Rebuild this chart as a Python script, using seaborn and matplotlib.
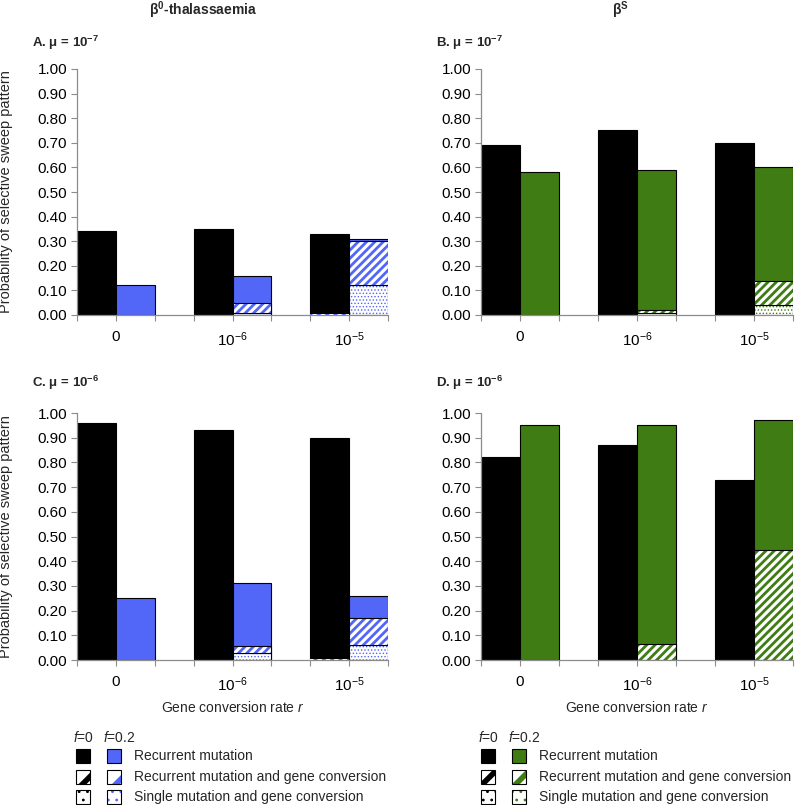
import numpy as np
import pandas as pd
import matplotlib.pyplot as plt
from matplotlib.patches import Rectangle
import seaborn as sns

sns.set_theme(style='ticks')
plt.rcParams['font.family'] = ['Liberation Sans', 'DejaVu Sans']
plt.rcParams['mathtext.fontset'] = 'custom'
plt.rcParams['mathtext.rm'] = 'Liberation Sans'
plt.rcParams['mathtext.it'] = 'Liberation Sans:italic'
plt.rcParams['mathtext.bf'] = 'Liberation Sans:bold'
plt.rcParams['hatch.linewidth'] = 2.0

# data
rates = ['0', '1e-6', '1e-5']
rate_labels = [r'0', r'$\mathregular{10^{-6}}$', r'$\mathregular{10^{-5}}$']

# panel A: beta0-thalassaemia, mu = 1e-7
a_f0 = [0.34, 0.35, 0.33]
a_f0_rmgc = [0.0, 0.0, 0.005]
a_f02 = [0.12, 0.16, 0.31]
a_single = [0.0, 0.01, 0.12]
a_rmgc = [0.0, 0.04, 0.18]

# panel B: betaS, mu = 1e-7
b_f0 = [0.69, 0.75, 0.70]
b_f0_rmgc = [0.0, 0.0, 0.0]
b_f02 = [0.58, 0.59, 0.60]
b_single = [0.0, 0.008, 0.04]
b_rmgc = [0.0, 0.012, 0.10]

# panel C: beta0-thalassaemia, mu = 1e-6
c_f0 = [0.96, 0.93, 0.90]
c_f0_rmgc = [0.0, 0.0, 0.005]
c_f02 = [0.25, 0.31, 0.26]
c_single = [0.0, 0.027, 0.06]
c_rmgc = [0.0, 0.031, 0.11]

# panel D: betaS, mu = 1e-6
d_f0 = [0.82, 0.87, 0.73]
d_f0_rmgc = [0.0, 0.0, 0.0]
d_f02 = [0.95, 0.95, 0.97]
d_single = [0.0, 0.0, 0.0]
d_rmgc = [0.0, 0.064, 0.445]

blue = '#5266F7'
green = '#3F7C14'
W, H = 797, 805


def fx(x):
    return x / W


def fy(y):
    return 1 - y / H


def thin_hatch(patches, lw):
    for p in patches:
        if hasattr(p, 'set_hatch_linewidth'):
            p.set_hatch_linewidth(lw)


def draw_panel(ax, f0, f0_rmgc, f02, single, rmgc, col, ylabel):
    df = pd.DataFrame({'r': rates * 2,
                       'f': ['f=0'] * 3 + ['f=0.2'] * 3,
                       'p': f0 + f02})
    sns.barplot(data=df, x='r', y='p', hue='f', order=rates,
                hue_order=['f=0', 'f=0.2'], palette=['black', col],
                width=2 / 3, saturation=1, edgecolor='black', linewidth=0.8,
                errorbar=None, legend=False, ax=ax)
    bw = 1 / 3
    for i in range(3):
        xr = i + bw / 2
        xl = i - bw / 2
        if single[i] > 0:
            b = ax.bar(xr, single[i], bw, color='white', edgecolor=col,
                       hatch='.....', linewidth=0)
            thin_hatch(b, 0.6)
            ax.bar(xr, single[i], bw, fill=False, edgecolor='black', linewidth=0.8)
        if rmgc[i] > 0:
            ax.bar(xr, rmgc[i], bw, bottom=single[i], color='white',
                   edgecolor=col, hatch='////', linewidth=0)
            ax.bar(xr, rmgc[i], bw, bottom=single[i], fill=False,
                   edgecolor='black', linewidth=0.8)
        if f0_rmgc[i] > 0:
            ax.bar(xl, f0_rmgc[i], bw, color='white', edgecolor=col,
                   hatch='////', linewidth=0)
    ax.set_xlim(-1 / 3, 7 / 3)
    ax.set_ylim(0, 1)
    ax.set_yticks(np.arange(0, 1.01, 0.1))
    ax.set_yticklabels([f'{v:.2f}' for v in np.arange(0, 1.01, 0.1)])
    ax.set_xticks([0, 1, 2])
    ax.set_xticklabels(rate_labels)
    ax.set_xticks([-1 / 3, 1 / 3, 2 / 3, 4 / 3, 5 / 3, 7 / 3], minor=True)
    ax.tick_params(axis='both', which='both', direction='out', length=4,
                   width=0.8, color='#8c8c8c', labelsize=11, labelcolor='black')
    ax.tick_params(axis='x', which='major', pad=7)
    ax.tick_params(axis='y', pad=3)
    sns.despine(ax=ax)
    for s in ['left', 'bottom']:
        ax.spines[s].set_color('#8c8c8c')
        ax.spines[s].set_linewidth(0.9)
    ax.set_xlabel('')
    ax.set_ylabel('')
    if ylabel:
        ax.set_ylabel('Probability of selective sweep pattern', fontsize=10.5)
        ax.yaxis.set_label_coords(-0.205, 0.5)


fig = plt.figure(figsize=(W / 100, H / 100), dpi=100)
ax_a = fig.add_axes([fx(77), fy(315), 311 / W, 246 / H])
ax_b = fig.add_axes([fx(481), fy(315), 312 / W, 246 / H])
ax_c = fig.add_axes([fx(77), fy(660), 311 / W, 247 / H])
ax_d = fig.add_axes([fx(481), fy(660), 312 / W, 247 / H])

draw_panel(ax_a, a_f0, a_f0_rmgc, a_f02, a_single, a_rmgc, blue, True)
draw_panel(ax_b, b_f0, b_f0_rmgc, b_f02, b_single, b_rmgc, green, False)
draw_panel(ax_c, c_f0, c_f0_rmgc, c_f02, c_single, c_rmgc, blue, True)
draw_panel(ax_d, d_f0, d_f0_rmgc, d_f02, d_single, d_rmgc, green, False)

for ax in [ax_c, ax_d]:
    ax.set_xlabel(r'Gene conversion rate $\mathit{r}$', fontsize=10)
    ax.xaxis.set_label_coords(0.5, -0.16)

fig.text(fx(203), fy(10), r'β$\mathbf{^{0}}$-thalassaemia', fontsize=10,
         fontweight='bold', ha='center', va='center')
fig.text(fx(620), fy(10), r'β$\mathbf{^{S}}$', fontsize=10,
         fontweight='bold', ha='center', va='center')
fig.text(fx(32), fy(43), r'A. μ = $\mathbf{10^{-7}}$', fontsize=9.5,
         fontweight='bold', va='center')
fig.text(fx(436), fy(43), r'B. μ = $\mathbf{10^{-7}}$', fontsize=9.5,
         fontweight='bold', va='center')
fig.text(fx(32), fy(383), r'C. μ = $\mathbf{10^{-6}}$', fontsize=9.5,
         fontweight='bold', va='center')
fig.text(fx(436), fy(383), r'D. μ = $\mathbf{10^{-6}}$', fontsize=9.5,
         fontweight='bold', va='center')

# legends
legend_items = ['Recurrent mutation', 'Recurrent mutation and gene conversion',
                'Single mutation and gene conversion']
hatches = [None, '/', '..']
row_y = [756, 777, 797]
for x0, col in [(76, blue), (481, green)]:
    fig.text(fx(x0 - 3), fy(737), r'$\mathit{f}$=0', fontsize=10, va='center')
    fig.text(fx(x0 + 27), fy(737), r'$\mathit{f}$=0.2', fontsize=10, va='center')
    for k, lab in enumerate(legend_items):
        for xs, c in [(x0, 'black'), (x0 + 31, col)]:
            if hatches[k] is None:
                fig.add_artist(Rectangle((fx(xs), fy(row_y[k] + 7)), 14 / W, 14 / H,
                                         transform=fig.transFigure, facecolor=c,
                                         edgecolor='black', linewidth=0.8))
            else:
                r = fig.add_artist(Rectangle((fx(xs), fy(row_y[k] + 7)), 14 / W, 14 / H,
                                             transform=fig.transFigure, facecolor='white',
                                             edgecolor=c, hatch=hatches[k], linewidth=0))
                thin_hatch([r], 4.0 if hatches[k] == '/' else 0.8)
                fig.add_artist(Rectangle((fx(xs), fy(row_y[k] + 7)), 14 / W, 14 / H,
                                         transform=fig.transFigure, fill=False,
                                         edgecolor='black', linewidth=0.8))
        fig.text(fx(x0 + 58), fy(row_y[k]), lab, fontsize=10, va='center')

fig.savefig('out.png', dpi=100)
